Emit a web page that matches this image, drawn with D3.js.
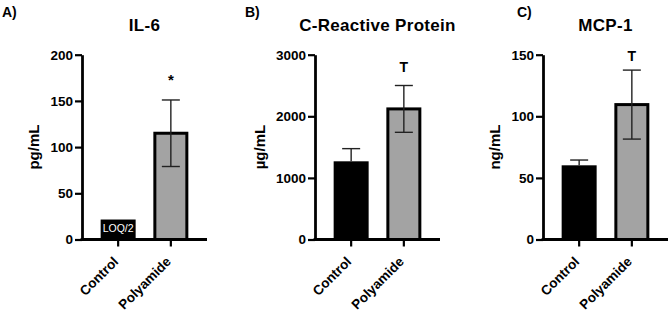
<!DOCTYPE html>
<html>
<head>
<meta charset="utf-8">
<script src="https://cdn.jsdelivr.net/npm/d3@7"></script>
<style>
    html, body { margin: 0; padding: 0; background: #fff; }
    svg { display: block; font-family: "Liberation Sans", Arial, Helvetica, sans-serif; }
</style>
</head>
<body>
<svg id="chart" width="669" height="313"></svg>
<script>
// values
const panelLetters = ['A)', 'B)', 'C)'];
const titles = ['IL-6', 'C-Reactive Protein', 'MCP-1'];
const yLabels = ['pg/mL', 'µg/mL', 'ng/mL'];
const categories = ['Control', 'Polyamide'];
const yMax = [200, 3000, 150];
const yTicks = [[0, 50, 100, 150, 200], [0, 1000, 2000, 3000], [0, 50, 100, 150]];
const controlMean = [20, 1245, 59];
const controlErr = [null, 230, 5.5];
const polyMean = [115, 2120, 109.5];
const polyErr = [36, 380, 28];
const controlNote = ['LOQ/2', null, null];
const sigMarks = ['*', 'T', 'T'];
const sigMarkAt = [167, 2725, 145];

(function () {
    const layout = {
        left: [82, 315, 543],
        letterX: [2, 245, 517],
        plotWidth: 125,
        top: 54.7,
        bottom: 239.5
    };

    const svg = d3.select('#chart');

    function drawPanel(i) {
        const left = layout.left[i];
        const right = left + layout.plotWidth;
        const g = svg.append('g').attr('class', 'panel-' + i);

        const x = d3.scaleBand()
            .domain(categories)
            .range([left, right])
            .paddingInner(0.336)
            .paddingOuter(0.354);

        const y = d3.scaleLinear()
            .domain([0, yMax[i]])
            .range([layout.bottom, layout.top]);

        // the lower half of the control error bar is lost inside the black bar
        const rows = [
            { cat: categories[0], mean: controlMean[i], err: controlErr[i], fill: '#000', lower: false },
            { cat: categories[1], mean: polyMean[i], err: polyErr[i], fill: '#a3a3a3', lower: true }
        ];

        // bars
        g.selectAll('rect.bar')
            .data(rows)
            .enter()
            .append('rect')
            .attr('class', 'bar')
            .attr('x', d => x(d.cat) + 1.5)
            .attr('width', x.bandwidth() - 3)
            .attr('y', d => y(d.mean))
            .attr('height', d => y(0) - y(d.mean))
            .attr('fill', d => d.fill)
            .attr('stroke', '#000')
            .attr('stroke-width', 3);

        // error bars
        const eb = g.selectAll('g.err')
            .data(rows.filter(d => d.err != null))
            .enter()
            .append('g')
            .attr('class', 'err')
            .attr('stroke', '#222')
            .attr('stroke-width', 1.4);
        const cx = d => x(d.cat) + x.bandwidth() / 2;
        eb.append('line')
            .attr('x1', cx).attr('x2', cx)
            .attr('y1', d => y(d.mean + d.err))
            .attr('y2', d => d.lower ? y(d.mean - d.err) : y(d.mean) - 1.5);
        eb.append('line')
            .attr('x1', d => cx(d) - 9).attr('x2', d => cx(d) + 9)
            .attr('y1', d => y(d.mean + d.err))
            .attr('y2', d => y(d.mean + d.err));
        eb.filter(d => d.lower).append('line')
            .attr('x1', d => cx(d) - 9).attr('x2', d => cx(d) + 9)
            .attr('y1', d => y(d.mean - d.err))
            .attr('y2', d => y(d.mean - d.err));

        // note inside control bar
        if (controlNote[i]) {
            g.append('text')
                .attr('x', cx(rows[0]))
                .attr('y', (y(rows[0].mean) + y(0)) / 2 - 1.5)
                .attr('dy', '0.35em')
                .attr('text-anchor', 'middle')
                .attr('fill', '#fff')
                .attr('font-size', 10.5)
                .text(controlNote[i]);
        }

        // significance mark above polyamide
        g.append('text')
            .attr('x', cx(rows[1]))
            .attr('y', y(sigMarkAt[i]))
            .attr('text-anchor', 'middle')
            .attr('font-weight', 'bold')
            .attr('font-size', sigMarks[i] === '*' ? 15 : 14)
            .text(sigMarks[i]);

        // y axis
        const yAxis = g.append('g')
            .attr('transform', `translate(${left},0)`)
            .call(d3.axisLeft(y)
                .tickValues(yTicks[i])
                .tickFormat(d3.format('d'))
                .tickSize(7)
                .tickSizeOuter(0)
                .tickPadding(2));

        // x axis
        const xAxis = g.append('g')
            .attr('transform', `translate(0,${layout.bottom})`)
            .call(d3.axisBottom(x).tickSize(7).tickSizeOuter(0));

        [yAxis, xAxis].forEach(ax => {
            ax.attr('font-family', null).attr('font-size', 13.5).attr('font-weight', 'bold');
            ax.select('.domain').attr('stroke', '#000').attr('stroke-width', 2.8);
            ax.selectAll('.tick line').attr('stroke', '#000').attr('stroke-width', 2.2);
            ax.selectAll('.tick text').attr('fill', '#000');
        });
        // extend x axis domain back over the y axis line
        xAxis.select('.domain').attr('d', `M${left - 1.4},0H${right}`);

        xAxis.selectAll('.tick text')
            .attr('x', 0)
            .attr('y', 0)
            .attr('dy', 0)
            .attr('text-anchor', 'end')
            .attr('transform', 'translate(1,23) rotate(-45)');

        // y label, placed off the widest tick label
        let minX = Infinity;
        yAxis.selectAll('.tick text').each(function () {
            const b = this.getBBox();
            minX = Math.min(minX, b.x);
        });
        const labelX = left + minX - 11;
        g.append('text')
            .attr('transform', `translate(${labelX},${(layout.top + layout.bottom) / 2}) rotate(-90)`)
            .attr('text-anchor', 'middle')
            .attr('font-weight', 'bold')
            .attr('font-size', 15)
            .text(yLabels[i]);

        // title
        g.append('text')
            .attr('x', (left + right) / 2)
            .attr('y', 30.5)
            .attr('text-anchor', 'middle')
            .attr('font-weight', 'bold')
            .attr('font-size', 17)
            .attr('letter-spacing', 0.3)
            .text(titles[i]);

        // panel letter
        g.append('text')
            .attr('x', layout.letterX[i])
            .attr('y', 16.5)
            .attr('font-weight', 'bold')
            .attr('font-size', 14)
            .text(panelLetters[i]);
    }

    titles.forEach((t, i) => drawPanel(i));
})();
</script>
</body>
</html>
